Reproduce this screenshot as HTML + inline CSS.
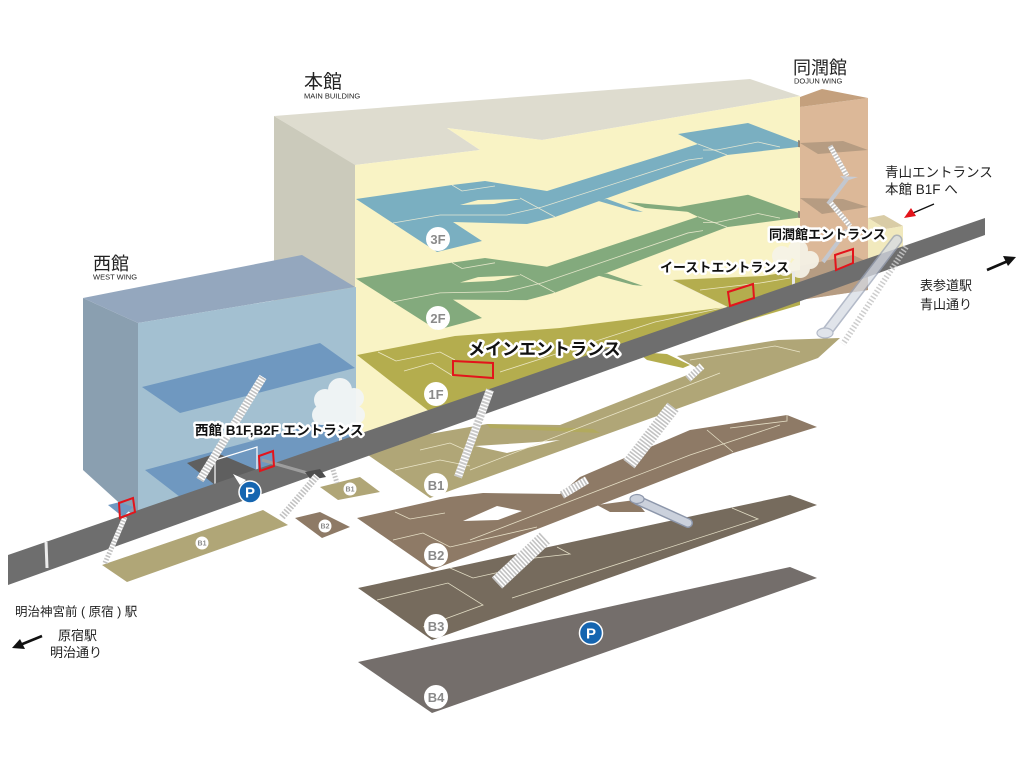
<!DOCTYPE html>
<html><head><meta charset="utf-8"><style>
html,body{margin:0;padding:0;background:#fff;}
svg{display:block;}
text{font-family:"Liberation Sans","Noto Sans CJK JP",sans-serif;}
.h{font-weight:bold;fill:#111;stroke:#fff;stroke-width:5;stroke-linejoin:round;paint-order:stroke;}
.bd{font-weight:bold;fill:#8a8a8a;text-anchor:middle;}
.ln{fill:none;stroke:#f4f0d6;stroke-width:0.8;opacity:.85}
.sw{stroke:#fff;fill:none}
.sg{stroke:#c2c2c2;stroke-dasharray:1.6 1.6;fill:none}
.rb{fill:none;stroke:#e3141b;stroke-width:2}
</style></head><body>
<svg width="1024" height="770" viewBox="0 0 1024 770" xmlns="http://www.w3.org/2000/svg">
<rect width="1024" height="770" fill="#fff"/>

<!-- MAIN BUILDING -->
<polygon points="274,116 356,165 356,440 274,440" fill="#cbcabb"/>
<polygon points="274,116 750,79 800,96 542,140 447,128 480,150 355,165" fill="#dedccf"/>
<polygon points="355,165 480,150 447,128 542,140 800,96 800,305 355,440" fill="#f9f3c5"/>

<!-- 3F -->
<g fill="#7aafc1">
<polygon points="356,199 452,185 485,181 547,191 698,144 678,134 748,123 798,142 798,147 727,155 555,217 527,224 453,222 482,241 437,252"/>
<polygon points="460,205 494,204 521,199 478,200" fill="#f9f3c5"/>
<polygon points="595,200 607,199 643,212 633,211"/>
<polyline class="ln" points="393,223 440,215 507,215 542,207 688,160 703,158"/>
<polyline class="ln" points="452,185 462,191 495,186"/>
<polyline class="ln" points="520,198 555,217"/>
<polyline class="ln" points="698,144 727,155"/>
<polyline class="ln" points="703,150 717,150 758,142 780,147"/>
<polygon points="798,140 818,146 812,149 798,147" fill="#8f8676"/>
</g>
<!-- 2F -->
<g fill="#83aa7d" transform="matrix(1,-0.02,0,1,0,86.7)">
<polygon points="356,199 452,185 485,181 547,191 698,144 678,134 748,123 798,142 798,147 727,155 555,217 527,224 453,222 482,241 437,252"/>
<polygon points="460,205 494,204 521,199 478,200" fill="#f9f3c5"/>
<polygon points="595,200 607,199 643,212 633,211"/>
<polyline class="ln" points="393,223 440,215 507,215 542,207 688,160 703,158"/>
<polyline class="ln" points="452,185 462,191 495,186"/>
<polyline class="ln" points="520,198 555,217"/>
<polyline class="ln" points="698,144 727,155"/>
<polyline class="ln" points="703,150 717,150 758,142 780,147"/>
<polygon points="798,140 818,146 812,149 798,147" fill="#8f8676"/>
</g>
<polygon points="627,202 680,207 690,212 645,208" fill="#83aa7d"/>

<!-- 1F -->
<polygon points="357,355 455,336 560,328 727,307 672,280 763,276 800,270 800,305 430,412" fill="#b4ad4e"/>
<polyline class="ln" points="378,352 396,361 440,352 455,360"/>
<polyline class="ln" points="404,371 432,363 453,376"/>
<polyline class="ln" points="500,372 655,322 727,307"/>
<polyline class="ln" points="672,280 727,307"/>
<polyline class="ln" points="700,290 760,283 790,278"/>

<!-- DOJUN WING -->
<polygon points="800,107 868,98 868,290 800,300" fill="#dcb898"/>
<polygon points="800,97 822,89 868,98 800,107" fill="#c4a07d"/>
<polygon points="800,143 843,141 868,150 818,154" fill="#b69c82"/>
<polygon points="800,198 843,199 868,207 822,214" fill="#b69c82"/>
<polygon points="800,266 853,255 868,262 868,290 800,300" fill="#b69c82"/>
<line x1="830" y1="146" x2="847" y2="176" class="sw" stroke-width="5"/>
<line x1="830" y1="146" x2="847" y2="176" class="sg" stroke-width="5"/>
<polygon points="840,176 858,177 846,181" fill="#c8ccd4"/>
<line x1="847" y1="179" x2="828" y2="204" stroke="#c3c7cf" stroke-width="4"/>
<line x1="830" y1="202" x2="850" y2="226" class="sw" stroke-width="5"/>
<line x1="830" y1="202" x2="850" y2="226" class="sg" stroke-width="5"/>
<line x1="847" y1="230" x2="823" y2="262" stroke="#c3c7cf" stroke-width="4"/>
<!-- small box east -->
<polygon points="868,218 884,215 903,226 886,229" fill="#d9cca6"/>
<polygon points="868,218 886,229 903,226 903,250 868,262" fill="#f1e9bd"/>

<!-- WEST WING -->
<polygon points="83,298 138,323 138,520 83,470" fill="#8a9fb0"/>
<polygon points="83,298 302,255 355,287 138,323" fill="#94a7be"/>
<polygon points="138,323 356,287 356,445 138,520" fill="#a3c0d1"/>
<polygon points="142,387 320,343 355,368 180,413" fill="#6f98c0"/>
<polygon points="145,470 330,420 355,440 180,497" fill="#6f98c0"/>
<polygon points="108,505 120,502 133,507 123,517" fill="#6f98c0"/>
<polygon points="187,463 217,453 257,470 215,485" fill="#5f5f5f"/>
<polygon points="215,460 257,447 257,470 215,485" fill="none" stroke="#fff" stroke-width="1.2"/>

<!-- TREES -->
<g fill="#f3f6f6" opacity=".95">
<circle cx="325" cy="400" r="11"/><circle cx="340" cy="390" r="12"/><circle cx="354" cy="398" r="10"/>
<circle cx="322" cy="415" r="10"/><circle cx="340" cy="412" r="13"/><circle cx="356" cy="415" r="9"/>
<circle cx="333" cy="426" r="7"/><circle cx="347" cy="425" r="6"/>
</g>
<rect x="339" y="432" width="3" height="32" fill="#e6e6e6"/>
<g fill="#f6f3e8" opacity=".92">
<circle cx="782" cy="256" r="10"/><circle cx="798" cy="250" r="10"/><circle cx="810" cy="260" r="9"/>
<circle cx="785" cy="268" r="8"/><circle cx="800" cy="268" r="10"/>
</g>
<rect x="792" y="272" width="3" height="30" fill="#e8e8e8"/>

<!-- BASEMENTS -->
<polygon points="358,662 790,567 817,578 432,713" fill="#746e6b"/>
<polygon points="358,588 790,495 817,505 432,640" fill="#766b5d"/>
<polyline class="ln" points="377,600 448,583 483,605 423,627"/>
<polyline class="ln" points="450,568 473,578 500,572"/>
<polyline class="ln" points="512,598 758,519 732,508"/>
<polyline class="ln" points="517,560 570,554 557,547"/>
<polygon points="357,518 450,497 483,493 560,494 580,477 690,430 787,415 817,427 733,453 432,570" fill="#8e7a66"/>
<polygon points="463,521 498,520 522,511 497,506" fill="#fff"/>
<polygon points="597,505 635,500 645,512 610,512" fill="#8e7a66"/>
<polyline class="ln" points="393,540 423,533 450,547 537,527"/>
<polyline class="ln" points="395,512 410,519 445,513"/>
<polyline class="ln" points="470,540 690,455 780,425"/>
<polyline class="ln" points="707,430 733,452"/>
<polyline class="ln" points="730,428 787,421 787,415"/>
<polygon points="368,455 395,440 487,424 560,425 700,370 677,356 778,340 840,338 818,358 430,498" fill="#b0a677"/>
<polygon points="475,446 538,442 560,440 507,453" fill="#fff"/>
<polygon points="637,352 667,354 690,365 683,368 647,360" fill="#b4ad4e"/>
<polygon points="487,424 593,429 600,433 490,428" fill="#b4ad4e" opacity=".6"/>
<polyline class="ln" points="395,470 440,460 470,466"/>
<polyline class="ln" points="470,470 720,373"/>
<polyline class="ln" points="690,360 775,346 800,352"/>
<polyline class="ln" points="420,450 450,443 470,452"/>
<!-- small basements west -->
<polygon points="102,565 263,510 288,525 127,582" fill="#b0a677"/>
<polygon points="320,487 360,477 380,492 338,500" fill="#b0a677"/>
<polygon points="295,518 320,512 350,527 322,538" fill="#8e7a66"/>

<!-- ROAD -->
<polygon points="8,555 985,218 985,235 8,585" fill="#6e6e6e"/>
<line x1="46" y1="542" x2="47" y2="568" stroke="#ececec" stroke-width="3"/>
<line x1="262" y1="460" x2="318" y2="476" stroke="#9d9d9d" stroke-width="3"/>
<polygon points="305,472 320,469 326,477 311,480" fill="#4e4e4e"/>

<!-- STAIRS -->
<g stroke-linecap="butt">
<line x1="200" y1="480" x2="263" y2="377" class="sw" stroke-width="8"/>
<line x1="200" y1="480" x2="263" y2="377" class="sg" stroke-width="8"/>
<line x1="282" y1="517" x2="317" y2="476" class="sw" stroke-width="7"/>
<line x1="282" y1="517" x2="317" y2="476" class="sg" stroke-width="7"/>
<line x1="333" y1="470" x2="337" y2="483" class="sw" stroke-width="5"/>
<line x1="333" y1="470" x2="337" y2="483" class="sg" stroke-width="5"/>
<line x1="105" y1="563" x2="125" y2="517" class="sw" stroke-width="5"/>
<line x1="105" y1="563" x2="125" y2="517" class="sg" stroke-width="5"/>
<line x1="458" y1="477" x2="490" y2="390" class="sw" stroke-width="8"/>
<line x1="458" y1="477" x2="490" y2="390" stroke="#c9c9c9" stroke-width="8" stroke-dasharray="2 1.4"/>
<line x1="629" y1="464" x2="673" y2="407" class="sw" stroke-width="14"/>
<line x1="629" y1="464" x2="673" y2="407" class="sg" stroke-width="14"/>
<line x1="688" y1="379" x2="702" y2="366" class="sw" stroke-width="7"/>
<line x1="688" y1="379" x2="702" y2="366" class="sg" stroke-width="7"/>
<line x1="497" y1="583" x2="546" y2="537" class="sw" stroke-width="15"/>
<line x1="497" y1="583" x2="546" y2="537" class="sg" stroke-width="15"/>
<line x1="562" y1="495" x2="587" y2="480" class="sw" stroke-width="8"/>
<line x1="562" y1="495" x2="587" y2="480" class="sg" stroke-width="8"/>
</g>

<!-- ESCALATORS -->
<line x1="906" y1="247" x2="843" y2="344" stroke="#c8c8c8" stroke-width="6" stroke-dasharray="1.5 2" opacity=".9"/>
<g opacity=".75">
<line x1="897" y1="240" x2="826" y2="333" stroke="#9aa3b6" stroke-width="11" stroke-linecap="round"/>
<line x1="897" y1="240" x2="826" y2="333" stroke="#d6dbe4" stroke-width="8" stroke-linecap="round"/>
<ellipse cx="825" cy="333" rx="8" ry="5" fill="#d6dbe4" stroke="#9aa3b6" stroke-width="1.2"/>
</g>
<line x1="637" y1="500" x2="688" y2="523" stroke="#8d97ab" stroke-width="10" stroke-linecap="round"/>
<line x1="637" y1="500" x2="688" y2="523" stroke="#cbd1dc" stroke-width="7" stroke-linecap="round"/>
<ellipse cx="637" cy="499" rx="7" ry="4.5" fill="#cbd1dc" stroke="#8d97ab" stroke-width="1.2"/>

<!-- RED BOXES -->
<polygon class="rb" points="453,361 493,363 493,378 453,375"/>
<polygon class="rb" points="728,292 753,284 754,298 730,306"/>
<polygon class="rb" points="835,255 853,249 853,263 836,270"/>
<polygon class="rb" points="259,456 273,451 274,466 260,471"/>
<polygon class="rb" points="119,503 133,498 135,512 120,518"/>

<!-- P BADGES -->
<polygon points="233,474 246,480 240,485" fill="#fff"/>
<circle cx="250" cy="492" r="11" fill="#1565b0" stroke="#fff" stroke-width="1.5"/>
<text x="250" y="497.5" font-size="15" font-weight="bold" fill="#fff" text-anchor="middle">P</text>
<circle cx="591" cy="633" r="11.5" fill="#1565b0" stroke="#fff" stroke-width="1.5"/>
<text x="591" y="638.5" font-size="15" font-weight="bold" fill="#fff" text-anchor="middle">P</text>

<!-- FLOOR BADGES -->
<g fill="#fff">
<circle cx="438" cy="239" r="12"/><circle cx="438" cy="318" r="12"/><circle cx="436" cy="394" r="12"/>
<circle cx="436" cy="485" r="12"/><circle cx="436" cy="555" r="12"/><circle cx="436" cy="626" r="12"/>
<circle cx="436" cy="697" r="12"/>
<circle cx="350" cy="489" r="6.5"/><circle cx="325" cy="526" r="6.5"/><circle cx="202" cy="543" r="6.5"/>
</g>
<g class="bd" font-size="13">
<text x="438" y="244">3F</text><text x="438" y="323">2F</text><text x="436" y="399">1F</text>
<text x="436" y="490">B1</text><text x="436" y="560">B2</text><text x="436" y="631">B3</text>
<text x="436" y="702">B4</text>
</g>
<g class="bd" font-size="7">
<text x="350" y="491.5">B1</text><text x="325" y="528.5">B2</text><text x="202" y="545.5">B1</text>
</g>

<!-- BUILDING LABELS -->
<g fill="#222">
<text x="304" y="88" font-size="19">本館</text>
<text x="304" y="98.5" font-size="7.5">MAIN BUILDING</text>
<text x="793" y="74" font-size="18">同潤館</text>
<text x="794" y="83.5" font-size="7.5">DOJUN WING</text>
<text x="93" y="270" font-size="18">西館</text>
<text x="93" y="279.5" font-size="7.5">WEST WING</text>
<text x="885" y="177" font-size="13.5">青山エントランス</text>
<text x="885" y="194" font-size="13.5">本館 B1F へ</text>
<text x="920" y="290" font-size="13">表参道駅</text>
<text x="920" y="309" font-size="13">青山通り</text>
<text x="15" y="616" font-size="12.5">明治神宮前 ( 原宿 ) 駅</text>
<text x="58" y="640" font-size="13">原宿駅</text>
<text x="50" y="657" font-size="13">明治通り</text>
</g>

<!-- ARROWS -->
<line x1="934" y1="204" x2="913" y2="213" stroke="#111" stroke-width="1.3"/>
<polygon points="904,218 911,208 916,216" fill="#e3141b"/>
<line x1="987" y1="270" x2="1008" y2="261" stroke="#111" stroke-width="2.6"/>
<polygon points="1016,257 1003,256 1008,266" fill="#111"/>
<line x1="42" y1="636" x2="20" y2="645" stroke="#111" stroke-width="2.6"/>
<polygon points="12,648 25,649 20,639" fill="#111"/>

<!-- ENTRANCE LABELS -->
<text class="h" x="468" y="355" font-size="17">メインエントランス</text>
<text class="h" x="660" y="272" font-size="13">イーストエントランス</text>
<text class="h" x="769" y="239" font-size="13">同潤館エントランス</text>
<text class="h" x="195" y="435" font-size="13.5">西館 B1F,B2F エントランス</text>
</svg>
</body></html>
